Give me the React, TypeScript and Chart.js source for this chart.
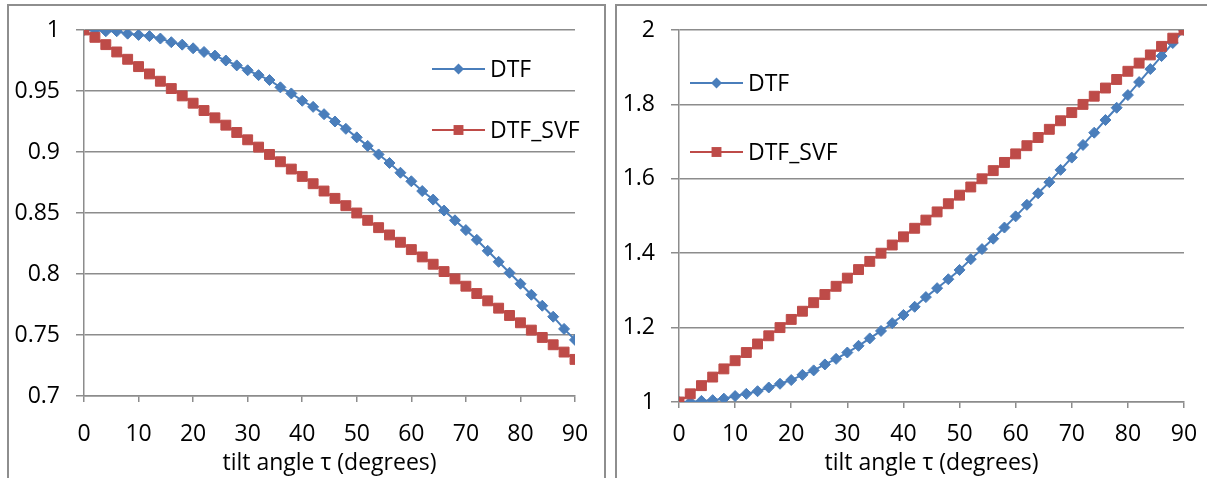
import React, { useEffect, useRef } from 'react';
import { Chart, registerables } from 'chart.js';

Chart.register(...registerables);

// ---- data ----
const tiltAngles = [0, 2, 4, 6, 8, 10, 12, 14, 16, 18, 20, 22, 24, 26, 28, 30, 32, 34, 36, 38, 40, 42, 44, 46, 48, 50, 52, 54, 56, 58, 60, 62, 64, 66, 68, 70, 72, 74, 76, 78, 80, 82, 84, 86, 88, 90];

const leftDTF = [1.000, 1.000, 0.999, 0.999, 0.997, 0.996, 0.995, 0.993, 0.990, 0.988, 0.985, 0.982, 0.979, 0.975, 0.971, 0.967, 0.963, 0.959, 0.953, 0.948, 0.942, 0.937, 0.931, 0.925, 0.919, 0.912, 0.905, 0.898, 0.891, 0.883, 0.876, 0.868, 0.861, 0.852, 0.844, 0.836, 0.828, 0.819, 0.810, 0.801, 0.792, 0.783, 0.774, 0.765, 0.755, 0.746];

const leftDTF_SVF = [1.000, 0.994, 0.988, 0.982, 0.976, 0.970, 0.964, 0.958, 0.952, 0.946, 0.940, 0.934, 0.928, 0.922, 0.916, 0.910, 0.904, 0.898, 0.892, 0.886, 0.880, 0.874, 0.868, 0.862, 0.856, 0.850, 0.844, 0.838, 0.832, 0.826, 0.820, 0.814, 0.808, 0.802, 0.796, 0.790, 0.784, 0.778, 0.772, 0.766, 0.760, 0.754, 0.748, 0.742, 0.736, 0.730];

const rightDTF = [1.000, 1.000, 1.003, 1.005, 1.009, 1.016, 1.022, 1.029, 1.039, 1.049, 1.059, 1.073, 1.085, 1.101, 1.116, 1.133, 1.151, 1.171, 1.191, 1.212, 1.234, 1.256, 1.282, 1.306, 1.330, 1.355, 1.384, 1.411, 1.439, 1.469, 1.499, 1.530, 1.561, 1.591, 1.624, 1.657, 1.691, 1.724, 1.758, 1.791, 1.825, 1.860, 1.895, 1.930, 1.965, 2.000];

const rightDTF_SVF = [1.000, 1.022, 1.044, 1.067, 1.089, 1.111, 1.133, 1.156, 1.178, 1.200, 1.222, 1.244, 1.267, 1.289, 1.311, 1.333, 1.356, 1.378, 1.400, 1.422, 1.444, 1.467, 1.489, 1.511, 1.533, 1.556, 1.578, 1.600, 1.622, 1.644, 1.667, 1.689, 1.711, 1.733, 1.756, 1.778, 1.800, 1.822, 1.844, 1.867, 1.889, 1.911, 1.933, 1.956, 1.978, 2.000];

const xTickValues = [0, 10, 20, 30, 40, 50, 60, 70, 80, 90];
const leftYTicks = [0.7, 0.75, 0.8, 0.85, 0.9, 0.95, 1];
const rightYTicks = [1, 1.2, 1.4, 1.6, 1.8, 2];
const seriesLabels = ['DTF', 'DTF_SVF'];
const xAxisTitle = 'tilt angle τ (degrees)';

// ---- styles ----
const BLUE = '#4A7EBB';
const RED = '#BE4B48';
const GRID = '#8c8c8c';
const FONT_FAMILY = "'Open Sans', 'Noto Sans', sans-serif";
const FONT_SIZE = 23;

const insideLegend = {
  id: 'insideLegend',
  afterDraw(chart: any, _args: any, opts: any) {
    if (!opts || !opts.rows) return;
    const ctx = chart.ctx as CanvasRenderingContext2D;
    chart.data.datasets.forEach((ds: any, i: number) => {
      const y = opts.rows[i];
      const x0 = opts.x;
      const len = opts.lineLength;
      ctx.save();
      ctx.strokeStyle = ds.borderColor;
      ctx.lineWidth = 2;
      ctx.beginPath();
      ctx.moveTo(x0, y);
      ctx.lineTo(x0 + len, y);
      ctx.stroke();
      const cx = x0 + len / 2;
      ctx.fillStyle = ds.pointBackgroundColor;
      ctx.beginPath();
      if (ds.pointStyle === 'rectRot') {
        const r = ds.pointRadius;
        ctx.moveTo(cx, y - r);
        ctx.lineTo(cx + r, y);
        ctx.lineTo(cx, y + r);
        ctx.lineTo(cx - r, y);
        ctx.closePath();
      } else {
        const h = ds.pointRadius * Math.SQRT1_2;
        ctx.rect(cx - h, y - h, 2 * h, 2 * h);
      }
      ctx.fill();
      ctx.fillStyle = '#000';
      ctx.font = `${FONT_SIZE}px ${FONT_FAMILY}`;
      ctx.textBaseline = 'middle';
      ctx.textAlign = 'left';
      ctx.fillText(ds.label, x0 + len + opts.gap, y + 1);
      ctx.restore();
    });
  },
};

type PanelProps = {
  dtf: number[];
  svf: number[];
  yTicks: number[];
  width: number;
  height: number;
  yAxisWidth: number;
  xAxisHeight: number;
  padRight: number;
  padTop: number;
  xTickPadding: number;
  legendX: number;
  legendRows: number[];
};

function makeDataset(label: string, values: number[], color: string, style: string, radius: number, order: number) {
  return {
    label,
    data: tiltAngles.map((t, i) => ({ x: t, y: values[i] })),
    borderColor: color,
    backgroundColor: color,
    pointBackgroundColor: color,
    pointBorderColor: color,
    pointBorderWidth: 1,
    borderWidth: 2,
    pointStyle: style,
    pointRadius: radius,
    pointHoverRadius: radius,
    tension: 0,
    order,
  };
}

function Panel(p: PanelProps) {
  const ref = useRef<HTMLCanvasElement | null>(null);
  useEffect(() => {
    if (!ref.current) return;
    const font = { family: FONT_FAMILY, size: FONT_SIZE };
    const chart = new Chart(ref.current, {
      type: 'line',
      data: {
        datasets: [
          makeDataset(seriesLabels[0], p.dtf, BLUE, 'rectRot', 5.5, 1),
          makeDataset(seriesLabels[1], p.svf, RED, 'rect', 7, 0),
        ] as any,
      },
      options: {
        responsive: false,
        animation: false,
        devicePixelRatio: 1,
        layout: { padding: { left: 0, top: p.padTop, right: p.padRight, bottom: 0 } },
        plugins: {
          legend: { display: false },
          tooltip: { enabled: false },
          insideLegend: { x: p.legendX, rows: p.legendRows, lineLength: 53, gap: 5 },
        } as any,
        scales: {
          x: {
            type: 'linear',
            min: xTickValues[0],
            max: xTickValues[xTickValues.length - 1],
            afterBuildTicks: (s: any) => {
              s.ticks = xTickValues.map((v) => ({ value: v }));
            },
            afterFit: (s: any) => {
              s.height = p.xAxisHeight;
              s.paddingLeft = 0;
              s.paddingRight = 0;
            },
            grid: {
              display: true,
              drawOnChartArea: false,
              drawTicks: true,
              tickLength: 6,
              color: GRID,
              lineWidth: 1.5,
            },
            border: { display: true, color: GRID, width: 1.5 },
            ticks: {
              color: '#000',
              font,
              padding: p.xTickPadding,
              maxRotation: 0,
              autoSkip: false,
              callback: (v: any) => String(v),
            },
            title: {
              display: true,
              text: xAxisTitle,
              color: '#000',
              font,
              padding: { top: 0, bottom: 1 },
            },
          },
          y: {
            type: 'linear',
            min: p.yTicks[0],
            max: p.yTicks[p.yTicks.length - 1],
            afterBuildTicks: (s: any) => {
              s.ticks = p.yTicks.map((v) => ({ value: v }));
            },
            afterFit: (s: any) => {
              s.width = p.yAxisWidth;
            },
            grid: {
              display: true,
              drawTicks: true,
              tickLength: 8,
              color: GRID,
              lineWidth: 1.5,
            },
            border: { display: true, color: GRID, width: 1.5 },
            ticks: {
              color: '#000',
              font,
              padding: 16,
              callback: (v: any) => String(v),
            },
          },
        },
      } as any,
      plugins: [insideLegend as any],
    });
    return () => chart.destroy();
  }, []);
  return <canvas ref={ref} width={p.width} height={p.height} style={{ display: 'block' }} />;
}

export default function App() {
  const boxStyle = (left: number, width: number): React.CSSProperties => ({
    position: 'absolute',
    left,
    top: 4,
    width,
    height: 600,
    border: '2px solid #8e8e8e',
    boxSizing: 'border-box',
    background: '#fff',
  });
  return (
    <div style={{ position: 'absolute', left: 0, top: 0, width: 1207, height: 478, overflow: 'hidden', background: '#fff' }}>
      <div style={boxStyle(7, 599)} />
      <div style={boxStyle(615, 700)} />
      <div style={{ position: 'absolute', left: 0, top: 0 }}>
        <Panel
          dtf={leftDTF}
          svf={leftDTF_SVF}
          yTicks={leftYTicks}
          width={604}
          height={478}
          yAxisWidth={84}
          xAxisHeight={82}
          padRight={29}
          padTop={30}
          xTickPadding={19}
          legendX={432}
          legendRows={[69, 130]}
        />
      </div>
      <div style={{ position: 'absolute', left: 606, top: 0 }}>
        <Panel
          dtf={rightDTF}
          svf={rightDTF_SVF}
          yTicks={rightYTicks}
          width={601}
          height={478}
          yAxisWidth={73}
          xAxisHeight={76}
          padRight={23}
          padTop={30}
          xTickPadding={13}
          legendX={84}
          legendRows={[83, 152]}
        />
      </div>
    </div>
  );
}
